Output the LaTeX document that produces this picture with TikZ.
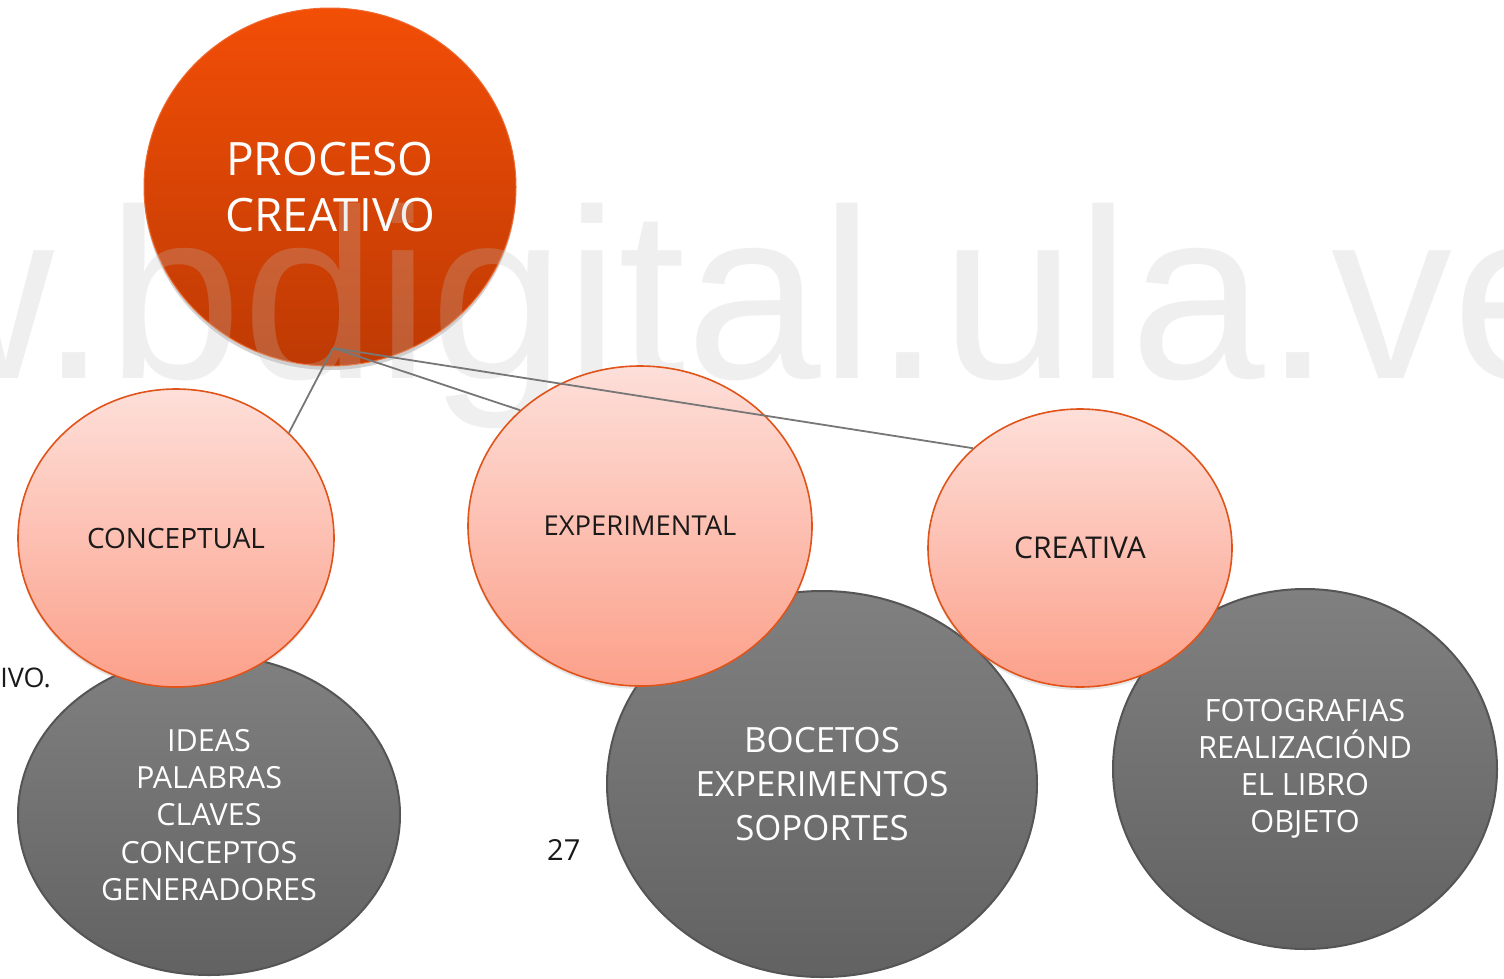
\documentclass[tikz,border=0pt]{standalone}
\usepackage{fontspec}
\setmainfont{Open Sans}
\newfontfamily\wmfont{Liberation Sans}
\usetikzlibrary{shapes.geometric,shadows}
\definecolor{orTop}{HTML}{F24E06}
\definecolor{orBot}{HTML}{BE3A04}
\definecolor{orBorder}{HTML}{EE6A30}
\definecolor{pkTop}{HTML}{FDDFD9}
\definecolor{pkBot}{HTML}{FCA08A}
\definecolor{pkBorder}{HTML}{E0541A}
\definecolor{gyTop}{HTML}{808080}
\definecolor{gyBot}{HTML}{626262}
\definecolor{gyBorder}{HTML}{555555}
\definecolor{connCol}{HTML}{777777}
\definecolor{wmCol}{HTML}{C3C3C3}
\definecolor{txtDark}{HTML}{1A1A1A}
\begin{document}
\begin{tikzpicture}[x=1pt,y=-1pt,
  bubble/.style={ellipse, inner sep=0pt, align=center},
  topbub/.style={bubble, top color=orTop, bottom color=orBot, draw=orBorder, line width=1pt,
    text=white, drop shadow={opacity=0.35, shadow xshift=0pt, shadow yshift=-4pt}},
  pinkbub/.style={bubble, top color=pkTop, bottom color=pkBot, draw=pkBorder, line width=1.6pt,
    text=txtDark, drop shadow={opacity=0.2, shadow xshift=0pt, shadow yshift=-3pt}},
  graybub/.style={bubble, top color=gyTop, bottom color=gyBot, draw=gyBorder, line width=2pt,
    text=white},
  conn/.style={draw=connCol, line width=1.8pt},
  plain/.style={text=txtDark, inner sep=0pt}
]
\useasboundingbox (0,0) rectangle (1504,978);
\clip (0,0) rectangle (1504,978);
\fill[white] (0,0) rectangle (1504,978);

% gray bubbles (behind)
\node[graybub, minimum width=382pt, minimum height=320pt,
  font=\fontsize{30.5pt}{37.3pt}\selectfont] (ideas) at (209,815)
  {IDEAS\\PALABRAS\\CLAVES\\CONCEPTOS\\GENERADORES};
\node[graybub, minimum width=430pt, minimum height=386pt,
  font=\fontsize{34.8pt}{44pt}\selectfont] (bocetos) at (822,784)
  {BOCETOS\\EXPERIMENTOS\\SOPORTES};
\node[graybub, minimum width=384pt, minimum height=360pt,
  font=\fontsize{30.7pt}{37pt}\selectfont] (fotos) at (1305,769)
  {FOTOGRAFIAS\\REALIZACIÓND\\EL LIBRO\\OBJETO};

% top bubble
\node[topbub, minimum width=372pt, minimum height=358pt,
  font=\fontsize{46pt}{56pt}\selectfont] (proceso) at (330,187)
  {PROCESO\\CREATIVO};

% watermark
\node[font=\wmfont\fontsize{242pt}{242pt}\selectfont, text=wmCol, text opacity=0.25,
  anchor=base west, inner sep=0pt] (wm) at (-121,378) {w.bdigital.ula.ve};

% pink bubbles
\node[pinkbub, minimum width=316pt, minimum height=298pt,
  font=\fontsize{28pt}{34pt}\selectfont] (concept) at (176,538) {CONCEPTUAL};
\node[pinkbub, minimum width=344pt, minimum height=320pt,
  font=\fontsize{27.4pt}{34pt}\selectfont] (exper) at (640,526) {EXPERIMENTAL};
\node[pinkbub, minimum width=304pt, minimum height=278pt,
  font=\fontsize{30pt}{36pt}\selectfont] (creat) at (1080,548) {CREATIVA};

% connectors
\coordinate (hub) at (333,348);
\draw[conn] (hub) -- (concept.43);
\draw[conn] (hub) -- (exper.136.5);
\draw[conn] (hub) -- (creat.137.5);

% stray texts
\node[plain, anchor=base east, font=\fontsize{27pt}{32pt}\selectfont] (tivo) at (51,687) {TIVO.};
\node[plain, anchor=base west, font=\fontsize{29pt}{34pt}\selectfont] (pagenum) at (547,860) {27};
\end{tikzpicture}
\end{document}
